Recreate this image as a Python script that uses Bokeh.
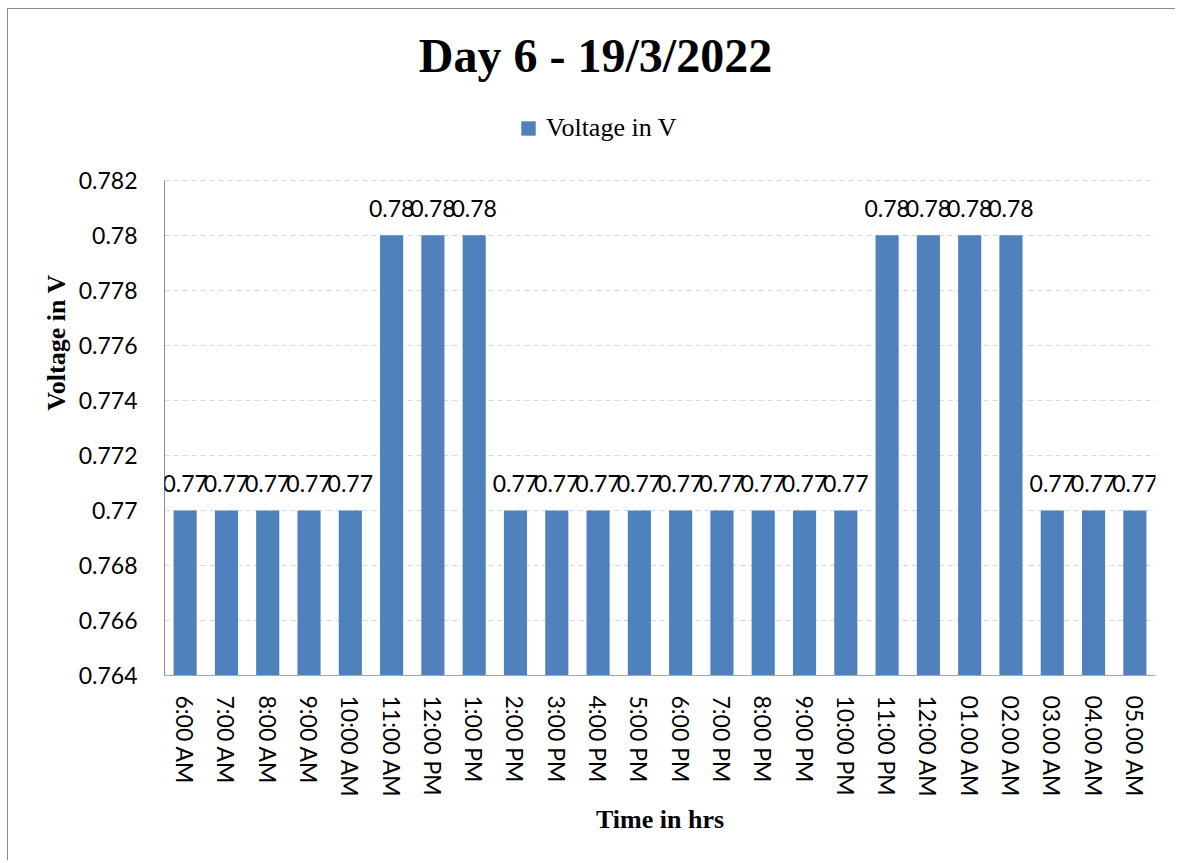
from bokeh.plotting import figure
from bokeh.models import (ColumnDataSource, LabelSet, Label, Legend, LegendItem,
                          FixedTicker, CustomJSTickFormatter, Range1d, FactorRange)
from bokeh.core.properties import value
from bokeh.embed import file_html
from bokeh.resources import INLINE

times = ["6:00 AM", "7:00 AM", "8:00 AM", "9:00 AM", "10:00 AM", "11:00 AM",
         "12:00 PM", "1:00 PM", "2:00 PM", "3:00 PM", "4:00 PM", "5:00 PM",
         "6:00 PM", "7:00 PM", "8:00 PM", "9:00 PM", "10:00 PM", "11:00 PM",
         "12:00 AM", "01.00 AM", "02.00 AM", "03.00 AM", "04.00 AM", "05.00 AM"]
voltage = [0.77, 0.77, 0.77, 0.77, 0.77, 0.78, 0.78, 0.78, 0.77, 0.77, 0.77, 0.77,
           0.77, 0.77, 0.77, 0.77, 0.77, 0.78, 0.78, 0.78, 0.78, 0.77, 0.77, 0.77]
labels = [f"{v:g}" for v in voltage]
y_ticks = [0.764, 0.766, 0.768, 0.770, 0.772, 0.774, 0.776, 0.778, 0.780, 0.782]

title_text = "Day 6 - 19/3/2022"
series_name = "Voltage in V"
y_title = "Voltage in V"
x_title = "Time in hrs"
y_min, y_max = y_ticks[0], y_ticks[-1]

BLUE = "#4F81BD"
SERIF = "Liberation Serif"
SANS = "Lato"

# layout (pixels)
W, H = 1168, 852
B_LEFT, B_RIGHT, B_BOTTOM = 156, 21, 186
AXIS_PX = 495.0            # pixel height of the y_min..y_max span
TOP_GAP_PX = 170.5         # pixels from the top tick to the top of the figure
FRAME_W_PX = 991.0         # pixel width of the plot frame
per_px = (y_max - y_min) / AXIS_PX
y_end = y_max + TOP_GAP_PX * per_px
x_per_px = len(times) / FRAME_W_PX

src = ColumnDataSource(dict(t=times, v=voltage, lab=labels))

p = figure(width=W, height=H, output_backend="svg", toolbar_location=None,
           title=None,
           x_range=FactorRange(factors=times, range_padding=0),
           y_range=Range1d(y_min, y_end),
           min_border_left=B_LEFT, min_border_right=B_RIGHT, min_border_top=0,
           min_border_bottom=B_BOTTOM)
p.styles = {"margin-left": "7px", "margin-top": "8px",
            "border-left": "1.5px solid #8a8a8a", "border-top": "1.5px solid #8a8a8a"}
p.outline_line_color = None
p.background_fill_color = "white"
p.border_fill_color = "white"

bars = p.vbar(x="t", top="v", bottom=y_min, width=0.56, source=src,
              fill_color=BLUE, line_color=None)

ls = LabelSet(x="t", y="v", text="lab", source=src, y_offset=18,
              text_align="center", text_baseline="alphabetic",
              text_font=value(SANS), text_font_size=value("23px"), text_color="black")
p.add_layout(ls)

ticker = FixedTicker(ticks=y_ticks, minor_ticks=[])

# axes
p.yaxis.ticker = ticker
p.yaxis.bounds = (y_min, y_max)
p.yaxis.formatter = CustomJSTickFormatter(code="return parseFloat(tick.toFixed(3)).toString();")
p.yaxis.major_label_text_font = SANS
p.yaxis.major_label_text_font_size = "23px"
p.yaxis.major_label_text_color = "black"
p.yaxis.major_label_standoff = 21
p.yaxis.major_tick_line_color = None
p.yaxis.minor_tick_line_color = None
p.yaxis.axis_line_color = "#8c8c8c"
p.yaxis.axis_label = y_title
p.yaxis.axis_label_text_font = SERIF
p.yaxis.axis_label_text_font_style = "bold"
p.yaxis.axis_label_text_font_size = "26px"
p.yaxis.axis_label_text_color = "black"
p.yaxis.axis_label_standoff = 5

p.xaxis.major_label_orientation = "vertical"
p.xaxis.major_label_text_font = SANS
p.xaxis.major_label_text_font_size = "23px"
p.xaxis.major_label_text_color = "black"
p.xaxis.major_label_standoff = 14
p.xaxis.major_tick_line_color = None
p.xaxis.minor_tick_line_color = None
p.xaxis.axis_line_color = "#a6a6a6"
p.xaxis.axis_label = x_title
p.xaxis.axis_label_text_font = SERIF
p.xaxis.axis_label_text_font_style = "bold"
p.xaxis.axis_label_text_font_size = "26px"
p.xaxis.axis_label_text_color = "black"
p.xaxis.axis_label_standoff = 5

p.xgrid.grid_line_color = None
p.ygrid.ticker = ticker
p.ygrid.grid_line_color = "#d9d9d9"
p.ygrid.grid_line_dash = "5 4"
p.ygrid.grid_line_width = 1

# title inside the (extended) frame, above the top tick
title_x = 431 * x_per_px
title_y = y_max + 125 * per_px
p.add_layout(Label(x=title_x, y=title_y, text=title_text, text_align="center",
                   text_baseline="alphabetic", text_font=SERIF, text_font_style="bold",
                   text_font_size="48px", text_color="black"))

legend = Legend(items=[LegendItem(label=series_name, renderers=[bars])],
                location=(355, 532), orientation="horizontal",
                padding=0, margin=0, border_line_color=None, background_fill_alpha=0,
                glyph_width=18, glyph_height=18, label_standoff=9,
                label_text_font=SERIF, label_text_font_size="26px", label_text_color="black")
p.add_layout(legend)

open("out.html", "w").write(file_html(p, INLINE))
